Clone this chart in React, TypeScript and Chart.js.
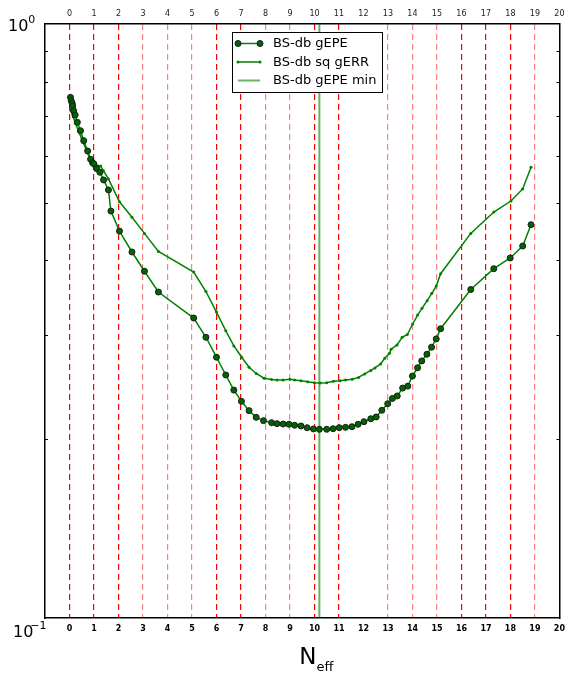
import React, { useEffect, useRef } from 'react';
import { Chart, registerables } from 'chart.js';

Chart.register(...registerables);

// ---- data ----
const epeX = [0.04, 0.07, 0.11, 0.13, 0.17, 0.23, 0.32, 0.45, 0.58, 0.74, 0.86, 0.94, 1.0, 1.11, 1.24, 1.39, 1.59, 1.69, 2.04, 2.55, 3.06, 3.63, 5.07, 5.57, 6.0, 6.38, 6.71, 7.02, 7.33, 7.62, 7.92, 8.25, 8.47, 8.72, 8.96, 9.19, 9.45, 9.7, 9.96, 10.2, 10.5, 10.76, 11.01, 11.27, 11.53, 11.78, 12.02, 12.3, 12.52, 12.75, 12.99, 13.18, 13.38, 13.6, 13.81, 14.0, 14.21, 14.38, 14.59, 14.78, 14.97, 15.15, 16.38, 17.32, 17.99, 18.5, 18.84];
const epeY = [0.7525, 0.7427, 0.7353, 0.7277, 0.7145, 0.7027, 0.6831, 0.6613, 0.6362, 0.6113, 0.5919, 0.5842, 0.5813, 0.5708, 0.5629, 0.5464, 0.5256, 0.4843, 0.4481, 0.4132, 0.3835, 0.3538, 0.3199, 0.2969, 0.2748, 0.2565, 0.2419, 0.2316, 0.2234, 0.2177, 0.2149, 0.2132, 0.2124, 0.2121, 0.2119, 0.2111, 0.2105, 0.2091, 0.2081, 0.2078, 0.2078, 0.2083, 0.2091, 0.2094, 0.2099, 0.2119, 0.214, 0.2165, 0.218, 0.2237, 0.2295, 0.2342, 0.2365, 0.2438, 0.2457, 0.2555, 0.2638, 0.2709, 0.278, 0.2857, 0.295, 0.3069, 0.3573, 0.3873, 0.4037, 0.4229, 0.4593];

const errX = [0.04, 0.15, 0.24, 0.38, 0.54, 0.69, 0.85, 0.98, 1.16, 1.27, 1.39, 1.59, 2.04, 2.55, 3.06, 3.63, 5.07, 5.57, 6.0, 6.38, 6.71, 7.03, 7.33, 7.62, 7.94, 8.25, 8.47, 8.72, 9.0, 9.19, 9.45, 9.72, 10.0, 10.23, 10.5, 10.77, 11.04, 11.27, 11.54, 11.8, 12.05, 12.3, 12.47, 12.7, 12.87, 13.06, 13.13, 13.37, 13.58, 13.79, 14.01, 14.21, 14.39, 14.6, 14.79, 14.97, 15.15, 16.38, 17.32, 18.02, 18.5, 18.84];
const errY = [0.7165, 0.6982, 0.6805, 0.6587, 0.6335, 0.6137, 0.5902, 0.5768, 0.5768, 0.5768, 0.5657, 0.5485, 0.5019, 0.4727, 0.4441, 0.414, 0.3824, 0.3545, 0.3274, 0.3045, 0.2871, 0.2748, 0.2643, 0.258, 0.2533, 0.2521, 0.2516, 0.2516, 0.2523, 0.2516, 0.2509, 0.2499, 0.2489, 0.2486, 0.2489, 0.2503, 0.2509, 0.2516, 0.2523, 0.2541, 0.2576, 0.2611, 0.2636, 0.2677, 0.2737, 0.2791, 0.2835, 0.2882, 0.2969, 0.3001, 0.3126, 0.3236, 0.3322, 0.3421, 0.352, 0.3621, 0.3799, 0.4441, 0.4825, 0.5035, 0.5277, 0.574];

const minX = 10.2;
const seriesLabels = ['BS-db gEPE', 'BS-db sq gERR', 'BS-db gEPE min'];

const xMin = -1;
const xMax = 20;
const yMin = 0.1;
const yMax = 1;
const yMinorTicks = [0.2, 0.3, 0.4, 0.5, 0.6, 0.7, 0.8, 0.9];
const yMajorLabels = [
  { value: 1, base: '10', exp: '0' },
  { value: 0.1, base: '10', exp: '\u22121' },
];
const xTitleMain = 'N';
const xTitleSub = 'eff';
// vertical reference line style per integer position: r = red, p = pale, '' = none
const gridStyle = ['r', 'r', 'r', 'p', 'p', 'p', 'r', 'r', 'p', 'p', 'r', 'r', '', 'p', 'p', 'p', 'r', 'r', 'r', 'p'];

const FONT = "'DejaVu Sans', sans-serif";
const GREEN = '#008000';
const MIN_GREEN = 'rgba(0,128,0,0.6)';

export default function App() {
  const ref = useRef<HTMLCanvasElement>(null);

  useEffect(() => {
    const canvas = ref.current;
    if (!canvas) return;

    const overlay = {
      id: 'overlay',
      afterDraw(chart: any) {
        const ctx = chart.ctx as CanvasRenderingContext2D;
        const ca = chart.chartArea;
        const ys = chart.scales.y;
        ctx.save();
        // minor y ticks, left and right, inward
        ctx.strokeStyle = '#000';
        ctx.lineWidth = 1;
        for (const v of yMinorTicks) {
          const py = Math.round(ys.getPixelForValue(v)) + 0.5;
          ctx.beginPath();
          ctx.moveTo(ca.left, py);
          ctx.lineTo(ca.left + 3, py);
          ctx.moveTo(ca.right, py);
          ctx.lineTo(ca.right - 3, py);
          ctx.stroke();
        }
        // y major labels (10^0, 10^-1)
        ctx.fillStyle = '#000';
        ctx.textBaseline = 'alphabetic';
        ctx.textAlign = 'left';
        for (const lab of yMajorLabels) {
          const py = ys.getPixelForValue(lab.value);
          const isTop = lab.value === yMax;
          const baseY = isTop ? py + 6.5 : py + 19;
          const baseX = isTop ? 8 : 13;
          ctx.font = `16px ${FONT}`;
          ctx.fillText(lab.base, baseX, baseY);
          const w = ctx.measureText(lab.base).width;
          ctx.font = `11px ${FONT}`;
          ctx.fillText(lab.exp, baseX + w - (isTop ? 0 : 3), baseY - 8);
        }
        // x title
        const cx = (ca.left + ca.right) / 2;
        ctx.font = `23px ${FONT}`;
        ctx.fillText(xTitleMain, cx - 3, 663.5);
        const nw = ctx.measureText(xTitleMain).width;
        ctx.font = `13px ${FONT}`;
        ctx.fillText(xTitleSub, cx - 3 + nw, 670.5);

        // legend
        const lx = ca.left + 187;
        const ly = ca.top + 8;
        const lw = 150;
        const lh = 60;
        ctx.fillStyle = '#fff';
        ctx.fillRect(lx, ly, lw, lh);
        ctx.strokeStyle = '#000';
        ctx.lineWidth = 1;
        ctx.strokeRect(lx + 0.5, ly + 0.5, lw, lh);
        const rows = [ly + 11.5, ly + 30, ly + 48.5];
        const x0 = lx + 6;
        const x1 = lx + 28;
        chart.data.datasets.forEach((ds: any, i: number) => {
          const ry = rows[i];
          ctx.strokeStyle = ds.borderColor;
          ctx.lineWidth = ds.borderWidth;
          ctx.beginPath();
          ctx.moveTo(x0, ry);
          ctx.lineTo(x1, ry);
          ctx.stroke();
          if (ds.pointRadius > 0) {
            for (const px of [x0, x1]) {
              ctx.beginPath();
              ctx.arc(px, ry, ds.pointRadius, 0, Math.PI * 2);
              ctx.fillStyle = ds.pointBackgroundColor;
              ctx.fill();
              if (ds.pointBorderWidth > 0) {
                ctx.strokeStyle = ds.pointBorderColor;
                ctx.lineWidth = ds.pointBorderWidth;
                ctx.stroke();
              }
            }
          }
          ctx.fillStyle = '#000';
          ctx.font = `13px ${FONT}`;
          ctx.textBaseline = 'middle';
          ctx.fillText(ds.label, lx + 41, ry + 0.5);
        });
        ctx.restore();
      },
    };

    const gridColor = (c: any) => {
      const v = c.tick ? c.tick.value : null;
      if (v === null || v < 0 || v >= gridStyle.length) return 'rgba(0,0,0,0)';
      const s = gridStyle[v];
      if (s === 'r') return '#ff0000';
      if (s === 'p') return '#ff8080';
      return 'rgba(0,0,0,0)';
    };

    const tickCb = (v: any) => (v < 0 ? '' : String(v));

    const chart = new Chart(canvas, {
      type: 'scatter',
      data: {
        datasets: [
          {
            label: seriesLabels[0],
            data: epeX.map((x, i) => ({ x, y: epeY[i] })),
            showLine: true,
            borderColor: GREEN,
            borderWidth: 1.5,
            pointRadius: 3,
            pointBackgroundColor: '#006400',
            pointBorderColor: '#1a1a1a',
            pointBorderWidth: 1,
          },
          {
            label: seriesLabels[1],
            data: errX.map((x, i) => ({ x, y: errY[i] })),
            showLine: true,
            borderColor: GREEN,
            borderWidth: 1.5,
            pointRadius: 1.5,
            pointBackgroundColor: GREEN,
            pointBorderColor: GREEN,
            pointBorderWidth: 0,
          },
          {
            label: seriesLabels[2],
            data: [
              { x: minX, y: yMin },
              { x: minX, y: yMax },
            ],
            showLine: true,
            borderColor: MIN_GREEN,
            borderWidth: 2,
            pointRadius: 0,
            pointBackgroundColor: MIN_GREEN,
            pointBorderColor: MIN_GREEN,
            pointBorderWidth: 0,
          },
        ],
      },
      options: {
        responsive: false,
        animation: false,
        events: [],
        layout: { padding: 0 },
        plugins: { legend: { display: false }, tooltip: { enabled: false } },
        scales: {
          x: {
            type: 'linear',
            position: 'bottom',
            min: xMin,
            max: xMax,
            afterFit: (s: any) => {
              s.height = 55;
            },
            ticks: {
              stepSize: 1,
              autoSkip: false,
              maxRotation: 0,
              padding: 6,
              color: '#000',
              font: { family: FONT, size: 8, weight: 'bold' },
              callback: tickCb,
            },
            grid: { drawTicks: false, color: gridColor, lineWidth: 1.2 },
            border: { display: true, color: '#000', width: 1.5, dash: [6, 4] },
          },
          x2: {
            type: 'linear',
            position: 'top',
            min: xMin,
            max: xMax,
            afterFit: (s: any) => {
              s.height = 24;
            },
            ticks: {
              stepSize: 1,
              autoSkip: false,
              maxRotation: 0,
              padding: 5,
              color: '#222',
              font: { family: FONT, size: 8 },
              callback: tickCb,
            },
            grid: { display: false, drawTicks: false },
            border: { display: true, color: '#000', width: 1.5 },
          },
          y: {
            type: 'logarithmic',
            position: 'left',
            min: yMin,
            max: yMax,
            afterFit: (s: any) => {
              s.width = 45;
            },
            ticks: { display: false },
            grid: { display: false, drawTicks: false },
            border: { display: true, color: '#000', width: 1.5 },
          },
          y2: {
            type: 'logarithmic',
            position: 'right',
            min: yMin,
            max: yMax,
            afterFit: (s: any) => {
              s.width = 7;
            },
            ticks: { display: false },
            grid: { display: false, drawTicks: false },
            border: { display: true, color: '#000', width: 1.5 },
          },
        },
      } as any,
      plugins: [overlay],
    });

    return () => chart.destroy();
  }, []);

  return (
    <div style={{ position: 'fixed', left: 0, top: 0, width: 571, height: 673, background: '#fff' }}>
      <canvas ref={ref} width={571} height={673} style={{ display: 'block', width: 571, height: 673 }} />
    </div>
  );
}
